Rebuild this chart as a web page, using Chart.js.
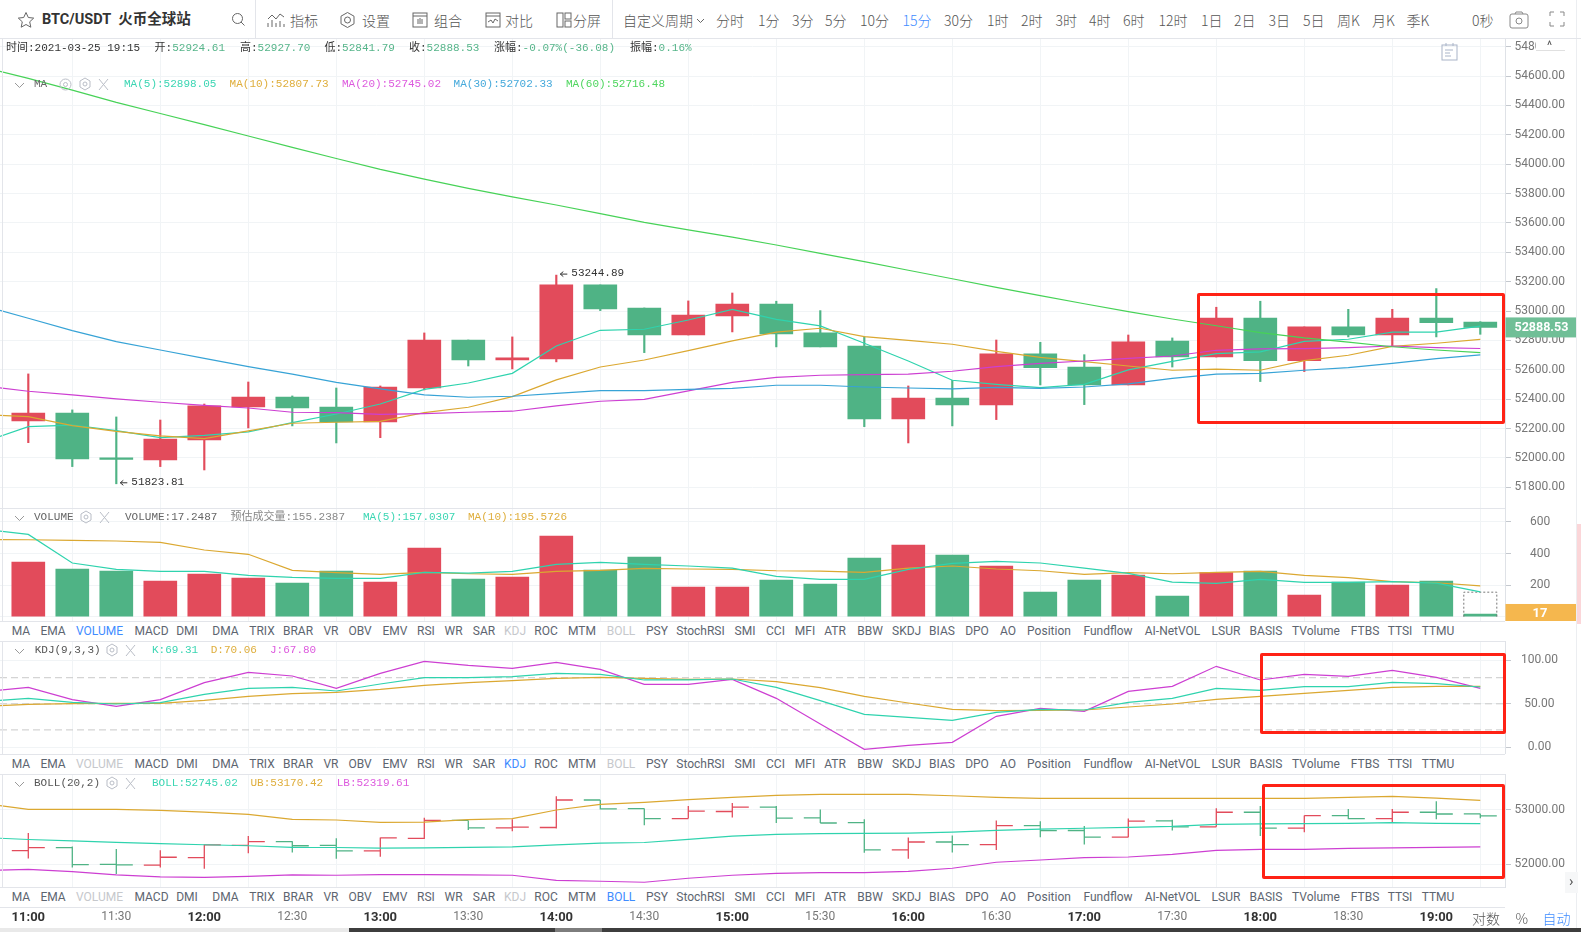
<!DOCTYPE html>
<html lang="zh">
<head>
<meta charset="utf-8">
<title>BTC/USDT</title>
<script src="https://cdn.jsdelivr.net/npm/chart.js@4"></script>
<style>
html, body { margin: 0; padding: 0; background: #fff; overflow: hidden; }
#page { position: relative; width: 1581px; height: 932px; overflow: hidden; font-family: Roboto, "Noto Sans CJK SC", sans-serif; }
canvas { position: absolute; left: 0; }
.t { position: absolute; white-space: nowrap; transform: translateY(-50%); line-height: 1; color: #555; }
.tb { font-size: 14px; color: #555; font-family: "Noto Sans CJK SC", Roboto, sans-serif; font-weight: 300; }
.m { font-family: "Liberation Mono", "Noto Sans CJK SC", monospace; font-size: 11px; color: #444; }
.line { position: absolute; background: #e3e5ea; }
.tabs { position: absolute; left: 0; width: 1505px; height: 20px; background: #fff; }
.tabs span { position: absolute; top: 50%; transform: translate(-50%, -50%); font-size: 12px; color: #5d6570; white-space: nowrap; }
.red { position: absolute; border: 3px solid #ff2215; box-sizing: border-box; border-radius: 2px; z-index: 5; }
svg { position: absolute; fill: none; stroke: #666; stroke-width: 1; }
</style>
</head>
<body>
<div id="page">
  <canvas id="main" width="1581" height="470" style="top:38px"></canvas>
  <canvas id="vol" width="1581" height="113" style="top:508px"></canvas>
  <canvas id="kdj" width="1581" height="113" style="top:641px"></canvas>
  <canvas id="boll" width="1581" height="154" style="top:774px"></canvas>
</div>
<script>
// bougies 15 min, de 11:00 a 19:15
const candleOpen = [52252,52306,52000,51986,52122,52347,52415,52347,52245,52476,52803,52667,52674,53178,53021,52837,52967,53048,52851,52762,52265,52408,52361,52708,52619,52497,52796,52687,52953,52663,52892,52837,52953,52924.61];
const candleClose = [52306,51993,51990,52129,52354,52415,52340,52245,52483,52803,52667,52681,53178,53014,52837,52973,53048,52844,52756,52265,52408,52361,52708,52615,52497,52790,52687,52953,52663,52892,52837,52953,52921,52888.53];
const candleHigh = [52572,52327,52279,52258,52367,52517,52422,52476,52490,52851,52803,52824,53244.89,53178,53021,53069,53123,53067,53003,52826,52490,52529,52803,52787,52703,52837,52817,53026,53067,52892,53012,53012,53153,52927.70];
const candleLow = [52104,51941,51823.81,51941,51918,52204,52218,52102,52138,52463,52626,52606,52654,53003,52717,52837,52858,52756,52756,52213,52102,52218,52261,52497,52363,52497,52619,52687,52520,52588,52824,52760,52824,52841.79];

// les moyennes commencent une bougie avant 11:00 (coupee a gauche)
const ma5 = [52111,52213,52224,52186,52138,52154,52177,52240,52299,52367,52467,52510,52576,52762,52869,52876,52939,53012,52944,52899,52781,52660,52529,52501,52479,52501,52599,52658,52710,52722,52794,52808,52856,52856,52898.05];
const ma10 = [52295,52281,52220,52181,52150,52131,52184,52236,52243,52249,52308,52345,52417,52531,52619,52667,52731,52797,52856,52883,52826,52801,52774,52726,52685,52656,52626,52597,52604,52597,52663,52699,52760,52781,52807.73];
const ma20 = [52490,52454,52429,52402,52379,52358,52340,52311,52308,52297,52302,52311,52318,52354,52386,52399,52456,52515,52549,52563,52567,52570,52590,52622,52644,52660,52678,52694,52733,52742,52744,52751,52762,52751,52745.02];
const ma30 = [53035,52951,52867,52792,52735,52678,52622,52570,52515,52470,52429,52413,52420,52440,52458,52458,52467,52474,52495,52495,52483,52476,52470,52481,52474,52483,52504,52542,52570,52576,52597,52615,52644,52676,52702.33];
const ma60 = [54660,54584,54505,54421,54345,54269,54192,54115,54039,53965,53899,53836,53777,53722,53664,53604,53553,53504,53450,53393,53337,53278,53220,53161,53105,53050,52996,52946,52900,52853,52817,52789,52757,52735,52716.48];

const volume = [346,302,289,226,270,245,213,289,219,435,238,251,511,295,378,188,188,232,207,371,454,390,321,156,232,264,131,279,289,137,219,200,226,17.2487];
const volPredicted = 155.2387;
const volMa5 = [553,521,340,300,287,287,262,249,243,243,281,276,287,331,344,331,321,308,255,236,236,300,338,350,340,308,274,219,211,236,217,217,222,213,157.03];
const volMa10 = [489,487,483,479,471,422,395,293,279,268,281,272,268,287,293,306,302,300,291,289,281,308,321,302,291,268,279,272,281,287,262,247,222,215,195.57];

const kdjK = [52.5,56.3,51.7,49.8,51.3,60.9,67.8,68.9,64.7,72.8,80.0,80.0,81.2,85.0,83.9,77.4,77.4,78.5,68.9,53.6,37.9,34.5,31.0,40.2,43.7,42.9,51.7,56.3,67.8,65.5,69.7,69.7,74.7,73.2,69.31];
const kdjD = [47.1,49.4,50.2,50.6,50.6,54.0,58.6,61.7,63.2,66.6,71.2,74.3,76.6,79.3,80.4,79.3,78.1,78.5,75.5,68.6,58.6,50.9,43.7,42.1,42.5,42.9,46.3,49.8,55.2,58.6,62.0,65.5,68.9,70.1,70.06];
const kdjJ = [64.0,68.9,54.8,47.1,54.8,74.3,86.2,82.0,67.8,85.0,98.8,94.2,90.8,97.7,89.6,72.4,72.4,78.1,56.3,26.8,-2.3,2.3,5.7,35.6,44.8,41.4,64.3,70.1,93.1,77.4,83.9,81.6,88.5,80.4,67.80];
const kdjLevels = [80,50,20];

const bollUp = [53110,53006,53006,53006,52988,52957,52915,52823,52811,52768,52774,52817,52835,52994,53098,53134,53183,53226,53262,53281,53281,53281,53256,53226,53207,53207,53207,53207,53207,53207,53207,53226,53244,53213,53170.42];
const bollLow = [51884,51908,51866,51805,51768,51762,51780,51805,51799,51811,51811,51805,51799,51707,51689,51671,51744,51799,51835,51847,51847,51872,51927,52037,52079,52122,52134,52183,52256,52274,52274,52293,52299,52311,52319.61];

const priceTicks = [51800,52000,52200,52400,52600,52800,53000,53200,53400,53600,53800,54000,54200,54400,54600,54800];
const volTicks = [0,200,400,600];
const kdjTicks = [0,50,100];
const bollTicks = [52000,53000];
const timeTickIdx = [0,2,4,6,8,10,12,14,16,18,20,22,24,26,28,30,32];
const timeLabels = ["11:00","11:30","12:00","12:30","13:00","13:30","14:00","14:30","15:00","15:30","16:00","16:30","17:00","17:30","18:00","18:30","19:00"];
const tabLabels = ["MA","EMA","VOLUME","MACD","DMI","DMA","TRIX","BRAR","VR","OBV","EMV","RSI","WR","SAR","KDJ","ROC","MTM","BOLL","PSY","StochRSI","SMI","CCI","MFI","ATR","BBW","SKDJ","BIAS","DPO","AO","Position","Fundflow","AI-NetVOL","LSUR","BASIS","TVolume","FTBS","TTSI","TTMU"];
const tabCenters = [21,53,99.5,151.5,187,225.5,262,298,331,360,395,426,453.6,484,515,546,582,621,657,700.5,745,775.5,805,835,870,906.6,942,977,1008,1049,1108,1172.5,1226,1266,1316,1365,1400,1438];
const periods = [["分时",716],["1分",758],["3分",792],["5分",825],["10分",860],["15分",902.6],["30分",944],["1时",987],["2时",1021],["3时",1055.5],["4时",1089],["6时",1123],["12时",1158.6],["1日",1201],["2日",1234],["3日",1268.6],["5日",1303],["周K",1337],["月K",1372],["季K",1406.6]];

const RED = "#e24b5b", GREEN = "#4fb385";
const C_MA5 = "#2fd3ae", C_MA10 = "#dba831", C_MA20 = "#cd3fd2", C_MA30 = "#37a3d6", C_MA60 = "#47d257";
const GRID = "#f1f4f6", TICKCOL = "#c4c8ce", AXISCOL = "#dfe2e7", LABEL = "#777";

// echelle x : une bougie = 44px, bougie 0 a 28.3px, axe y a 1505px
const XMIN = -28.3 / 44, XMAX = (1505 - 28.3) / 44;
const BODY_HALF = 16.5 / 44;

Chart.defaults.animation = false;

function noScalePadding(s) {
    s.paddingTop = s.paddingBottom = s.paddingLeft = s.paddingRight = 0;
}

function lineDs(values, color) {
    return {
        type: "line",
        data: values.map((v, i) => ({ x: i - 1, y: v })),
        borderColor: color,
        borderWidth: 1.2,
        pointRadius: 0,
        tension: 0,
        order: 1
    };
}

function candleColors() {
    return candleOpen.map((o, i) => candleClose[i] >= o ? RED : GREEN);
}

function yAxis(min, max, tickValues, fmt, padding) {
    return {
        position: "right",
        min: min,
        max: max,
        afterFit: s => { s.width = 76; noScalePadding(s); },
        afterBuildTicks: s => { s.ticks = tickValues.map(v => ({ value: v })); },
        grid: { color: GRID, tickColor: TICKCOL, tickLength: 6 },
        border: { color: AXISCOL },
        ticks: {
            color: LABEL,
            font: { family: "Roboto", size: 12 },
            padding: padding,
            crossAlign: "center",
            callback: fmt
        }
    };
}

function isHour(c) {
    return c.tick && c.tick.value % 4 === 0;
}

function xAxis(height) {
    const withLabels = height > 0;
    return {
        type: "linear",
        offset: false,
        min: XMIN,
        max: XMAX,
        afterFit: s => { s.height = height; noScalePadding(s); },
        afterBuildTicks: s => { s.ticks = timeTickIdx.map(v => ({ value: v })); },
        grid: { color: GRID, drawTicks: false },
        border: { display: false },
        ticks: {
            display: withLabels,
            autoSkip: false,
            maxRotation: 0,
            padding: 23,
            color: c => isHour(c) ? "#333" : LABEL,
            font: c => isHour(c)
                ? { family: "Roboto", size: 13, weight: "bold" }
                : { family: "Roboto", size: 12 },
            callback: v => timeLabels[timeTickIdx.indexOf(v)]
        }
    };
}

function makeChart(id, datasets, y, xHeight, plugins) {
    return new Chart(document.getElementById(id), {
        type: "bar",
        data: { datasets: datasets },
        plugins: plugins || [],
        options: {
            responsive: false,
            devicePixelRatio: 1,
            layout: { autoPadding: false, padding: 0 },
            events: [],
            datasets: { bar: { grouped: false } },
            plugins: { legend: { display: false }, tooltip: { enabled: false } },
            scales: { x: xAxis(xHeight), y: y }
        }
    });
}

// fleches du plus haut / plus bas, et etiquette du dernier prix
const priceMarks = {
    id: "priceMarks",
    afterDraw(chart) {
        const ctx = chart.ctx, sx = chart.scales.x, sy = chart.scales.y;
        const iHigh = candleHigh.indexOf(Math.max(...candleHigh));
        const iLow = candleLow.indexOf(Math.min(...candleLow));
        ctx.save();
        ctx.font = '11px "Liberation Mono"';
        ctx.textBaseline = "middle";
        [[iHigh, candleHigh[iHigh]], [iLow, candleLow[iLow]]].forEach(m => {
            const x = sx.getPixelForValue(m[0]) + 4, y = sy.getPixelForValue(m[1]) - 1;
            ctx.strokeStyle = ctx.fillStyle = "#333";
            ctx.lineWidth = 1;
            ctx.beginPath();
            ctx.moveTo(x + 7, y); ctx.lineTo(x, y); ctx.moveTo(x + 3, y - 2.5); ctx.lineTo(x, y); ctx.lineTo(x + 3, y + 2.5);
            ctx.stroke();
            ctx.fillText(m[1].toFixed(2), x + 11, y - 1);
        });
        const last = candleClose[candleClose.length - 1];
        const py = sy.getPixelForValue(last);
        ctx.fillStyle = "#70bf97";
        ctx.fillRect(1505.5, py - 10, 71, 20);
        ctx.fillStyle = "#fff";
        ctx.font = "bold 12.5px Roboto";
        ctx.fillText(last.toFixed(2), 1514.5, py + 0.5);
        ctx.restore();
    }
};

const volTag = {
    id: "volTag",
    afterDraw(chart) {
        const ctx = chart.ctx, sy = chart.scales.y;
        const last = volume[volume.length - 1];
        const py = sy.getPixelForValue(last);
        ctx.save();
        ctx.fillStyle = "#f5b74e";
        ctx.fillRect(1505.5, py - 10, 71, chart.height - py + 10);
        ctx.fillStyle = "#fff";
        ctx.font = "bold 13px Roboto";
        ctx.textAlign = "center";
        ctx.textBaseline = "middle";
        ctx.fillText(String(Math.round(last)), 1540, py);
        ctx.restore();
    }
};

const colors = candleColors();
const xs = candleOpen.map((o, i) => i);

// --- prix
makeChart("main", [
    lineDs(ma60, C_MA60), lineDs(ma30, C_MA30), lineDs(ma20, C_MA20), lineDs(ma10, C_MA10), lineDs(ma5, C_MA5),
    { data: xs.map(i => ({ x: i, y: [candleOpen[i], candleClose[i]] })), backgroundColor: colors, barThickness: 33, order: 10 },
    { data: xs.map(i => ({ x: i, y: [candleLow[i], candleHigh[i]] })), backgroundColor: colors, barThickness: 1.5, order: 11 }
], yAxis(51659, 54859.4, priceTicks, v => v.toFixed(2), 3.5), 0, [priceMarks]);

// --- volume
const predX = volume.length - 1;
makeChart("vol", [
    lineDs(volMa5, C_MA5), lineDs(volMa10, C_MA10),
    { type: "line", data: [{ x: predX - BODY_HALF, y: 0 }, { x: predX - BODY_HALF, y: volPredicted }, { x: predX + BODY_HALF, y: volPredicted }, { x: predX + BODY_HALF, y: 0 }],
      borderColor: "#777", borderWidth: 1, borderDash: [2, 2], pointRadius: 0, tension: 0, order: 2 },
    { data: xs.map(i => ({ x: i, y: [0, volume[i]] })), backgroundColor: colors, barThickness: 33, order: 10 }
], yAxis(-27.2, 688, volTicks, v => String(v), 19), 0, [volTag]);

// --- KDJ
const kdjGuides = kdjLevels.map(l => ({
    type: "line", data: [{ x: XMIN, y: l }, { x: XMAX, y: l }],
    borderColor: "#c9c9c9", borderWidth: 1, borderDash: [7, 4], pointRadius: 0, order: 5
}));
makeChart("kdj", [
    ...kdjGuides,
    lineDs(kdjK, C_MA5), lineDs(kdjD, C_MA10), lineDs(kdjJ, C_MA20)
], yAxis(-7.7, 122.2, kdjTicks, v => v.toFixed(2), 10), 0);

// --- BOLL avec barres OHLC
function ohlcDs(wantUp) {
    const pts = [];
    xs.forEach(i => {
        if ((candleClose[i] >= candleOpen[i]) !== wantUp) return;
        pts.push({ x: i - BODY_HALF, y: candleOpen[i] }, { x: i, y: candleOpen[i] }, { x: i, y: null });
        pts.push({ x: i, y: candleLow[i] }, { x: i, y: candleHigh[i] }, { x: i, y: null });
        pts.push({ x: i, y: candleClose[i] }, { x: i + BODY_HALF, y: candleClose[i] }, { x: i, y: null });
    });
    return { type: "line", data: pts, borderColor: wantUp ? RED : GREEN, borderWidth: 1.3, pointRadius: 0, tension: 0, spanGaps: false, order: 4 };
}
makeChart("boll", [
    ohlcDs(true), ohlcDs(false),
    lineDs(ma20, C_MA5), lineDs(bollUp, C_MA10), lineDs(bollLow, C_MA20)
], yAxis(51584, 53654, bollTicks, v => v.toFixed(2), 3.5), 41);

// --- habillage de la page
const page = document.getElementById("page");
function label(html, x, cy, cls, color) {
    const el = document.createElement("div");
    el.className = "t " + (cls || "");
    el.style.left = x + "px";
    el.style.top = cy + "px";
    el.style.zIndex = 3;
    if (color) el.style.color = color;
    el.innerHTML = html;
    page.appendChild(el);
    return el;
}
function box(cls, x, y, w, h, bg) {
    const el = document.createElement("div");
    el.className = cls;
    el.style.cssText += `left:${x}px;top:${y}px;width:${w}px;height:${h}px;` + (bg ? `background:${bg};` : "");
    page.appendChild(el);
    return el;
}
function icon(body, x, y, w, h, color) {
    const wrap = document.createElementNS("http://www.w3.org/2000/svg", "svg");
    wrap.setAttribute("width", w);
    wrap.setAttribute("height", h);
    wrap.setAttribute("viewBox", `0 0 ${w} ${h}`);
    wrap.style.cssText = `left:${x}px;top:${y}px;z-index:3;` + (color ? `stroke:${color};` : "");
    wrap.innerHTML = body;
    page.appendChild(wrap);
}

// lignes de separation
[38, 508, 621, 641, 754, 774, 887, 907].forEach(y => {
    const w = y === 38 ? 1581 : 1505;
    box("line", 0, y - 0.5, w, y === 38 ? 1.5 : 1.2).style.zIndex = 2;
});
box("line", 1.5, 38, 1, 870);
box("line", 1576, 0, 1, 928, "#eceef1");
box("line", 255, 0, 1, 38);
box("line", 612, 0, 1, 38);

// onglets d'indicateurs sous chaque panneau
function tabs(top, active, dimmed) {
    const strip = box("tabs", 0, top, 0, 0);
    strip.style.width = "1505px";
    strip.style.height = "19.5px";
    strip.style.zIndex = 1;
    tabLabels.forEach((name, i) => {
        const s = document.createElement("span");
        s.textContent = name;
        s.style.left = tabCenters[i] + "px";
        if (name === active) s.style.color = "#3f8cff";
        else if (dimmed.includes(name)) s.style.color = "#c6c8cc";
        strip.appendChild(s);
    });
}
tabs(621.5, "VOLUME", ["KDJ", "BOLL"]);
tabs(754.5, "KDJ", ["VOLUME", "BOLL"]);
tabs(887.5, "BOLL", ["VOLUME", "KDJ"]);

// barre d'outils
label("BTC/USDT&nbsp;&nbsp;火币全球站", 42, 20, "", "#333").style.cssText += 'font-size:14.5px;font-weight:700;font-family:Roboto,"Noto Sans CJK SC";';
icon('<path d="M9 1.5l2.3 5 5.4.6-4 3.7 1.1 5.4L9 13.5l-4.8 2.7 1.1-5.4-4-3.7 5.4-.6z"/>', 17, 11, 18, 18);
icon('<circle cx="6.5" cy="6.5" r="5"/><path d="M10 10l3.5 3.5"/>', 231, 12, 15, 15);
label("指标", 290, 20, "tb");
label("设置", 362, 20, "tb");
label("组合", 434, 20, "tb");
label("对比", 505, 20, "tb");
label("分屏", 573, 20, "tb");
label("自定义周期", 623, 20, "tb");
icon('<path d="M1 1l3.5 3.5L8 1"/>', 696, 18, 9, 6);
icon('<path d="M1 15V11M5 15V8M9 15V11M13 15V9M17 15V12M1 7l4-4 4 4 4-5 4 3"/>', 267, 12, 18, 16);
icon('<circle cx="8.5" cy="9" r="3"/><path d="M8.5 1.5l6.5 3.7v7.6l-6.5 3.7-6.5-3.7V5.2z"/>', 339, 11, 17, 18);
icon('<rect x="1" y="2" width="14" height="14"/><path d="M1 5h14M6 8v5M8 7v6M10 8v5"/>', 412, 11, 16, 18);
icon('<rect x="1" y="2" width="14" height="14"/><path d="M1 5h14M3 11l3-2 2 3 2-4 3 2"/>', 485, 11, 16, 18);
icon('<rect x="1" y="2" width="6" height="14"/><rect x="9" y="2" width="6" height="6"/><rect x="9" y="10" width="6" height="6"/>', 556, 11, 16, 18);
periods.forEach(p => label(p[0], p[1], 20, "tb", p[0] === "15分" ? "#3f8cff" : null));
label("0秒", 1472, 20, "tb");
icon('<rect x="1" y="4" width="18" height="14" rx="2"/><circle cx="10" cy="11" r="3"/><path d="M6 4l1-2h6l1 2"/>', 1509, 10, 20, 20, "#888");
icon('<path d="M1 5V1h4M11 1h4v4M15 11v4h-4M5 15H1v-4"/>', 1549, 11, 16, 16, "#888");
icon('<rect x="1" y="3" width="15" height="15"/><path d="M5 1v3M12 1v3M4 8h8M4 11h5M4 14h6"/>', 1441, 42, 17, 19, "#a9b4c8");

// coin replie de l'axe des prix
const corner = box("line", 1535.5, 39, 29, 11, "#fff");
corner.style.zIndex = 3;
corner.style.borderBottom = "1px solid #e0e0e0";
label("^", 1547, 46, "", "#555").style.fontSize = "12px";

// lignes de valeurs
const G = "#56b58a";
label(`时间:2021-03-25 19:15`, 6, 48, "m", "#333");
label(`<span style="color:#333">开:</span>52924.61`, 154.6, 48, "m", G);
label(`<span style="color:#333">高:</span>52927.70`, 240, 48, "m", G);
label(`<span style="color:#333">低:</span>52841.79`, 324.5, 48, "m", G);
label(`<span style="color:#333">收:</span>52888.53`, 409, 48, "m", G);
label(`<span style="color:#333">涨幅:</span>-0.07%(-36.08)`, 494, 48, "m", G);
label(`<span style="color:#333">振幅:</span>0.16%`, 630, 48, "m", G);

function panelIcons(hexX, y, eyeX) {
    const c = "#b9bdc6";
    icon('<path d="M1 1l4.5 4.5L10 1"/>', 14, y - 2, 11, 7, "#999");
    icon(`<path d="M6 1l5 3v6l-5 3-5-3V4z"/><circle cx="6" cy="7" r="2"/>`, hexX - 6, y - 7, 12, 14, c);
    icon('<path d="M1 1l9 11M10 1L1 12"/>', hexX + 13, y - 6, 11, 13, c);
    if (eyeX) icon('<circle cx="6.5" cy="6.5" r="5.5"/><circle cx="6.5" cy="6.5" r="2"/>', eyeX - 6, y - 6, 13, 13, c);
}
label("MA", 34, 84.3, "m", "#666");
panelIcons(85, 84.3, 65);
label("MA(5):52898.05", 124, 84.3, "m", "#3bd6b3");
label("MA(10):52807.73", 229.6, 84.3, "m", "#dfae3c");
label("MA(20):52745.02", 342, 84.3, "m", "#dd5ade");
label("MA(30):52702.33", 453.6, 84.3, "m", "#45a9db");
label("MA(60):52716.48", 566, 84.3, "m", "#4ed65e");

label("VOLUME", 34, 517.3, "m", "#666");
panelIcons(86, 517.3);
label("VOLUME:17.2487", 125, 517.3, "m", "#666");
label("预估成交量:155.2387", 230.6, 517.3, "m", "#888");
label("MA(5):157.0307", 363, 517.3, "m", "#3bd6b3");
label("MA(10):195.5726", 468, 517.3, "m", "#dfae3c");

label("KDJ(9,3,3)", 34.7, 650, "m", "#555");
panelIcons(112, 650);
label("K:69.31", 152, 650, "m", "#3bd6b3");
label("D:70.06", 210.7, 650, "m", "#dfae3c");
label("J:67.80", 270, 650, "m", "#dd5ade");

label("BOLL(20,2)", 34, 783, "m", "#555");
panelIcons(112, 783);
label("BOLL:52745.02", 152, 783, "m", "#3bd6b3");
label("UB:53170.42", 250.5, 783, "m", "#dfae3c");
label("LB:52319.61", 336.7, 783, "m", "#dd5ade");

// bas de l'axe
label("对数", 1472, 918, "tb");
label("%", 1515.6, 918, "tb");
label("自动", 1542.5, 918, "tb", "#3f8cff");

// rectangles rouges ajoutes sur la capture
box("red", 1197, 293, 308, 131);
box("red", 1260, 653, 246, 81);
box("red", 1262, 784, 243, 94.5);

// bords de la capture
box("line", 1577, 524, 4, 100, "#fbd6d9");
box("line", 1565, 872, 13, 21, "#f6f7f8");
label("›", 1569, 881, "", "#555").style.fontSize = "15px";
box("line", 0, 928, 349, 4, "#e9e9e9");
box("line", 349, 928, 206, 4, "#3e3e3e");
box("line", 555, 928, 47, 4, "#7d7d7d");
box("line", 602, 928, 979, 4, "#3e3e3e");
</script>
</body>
</html>
